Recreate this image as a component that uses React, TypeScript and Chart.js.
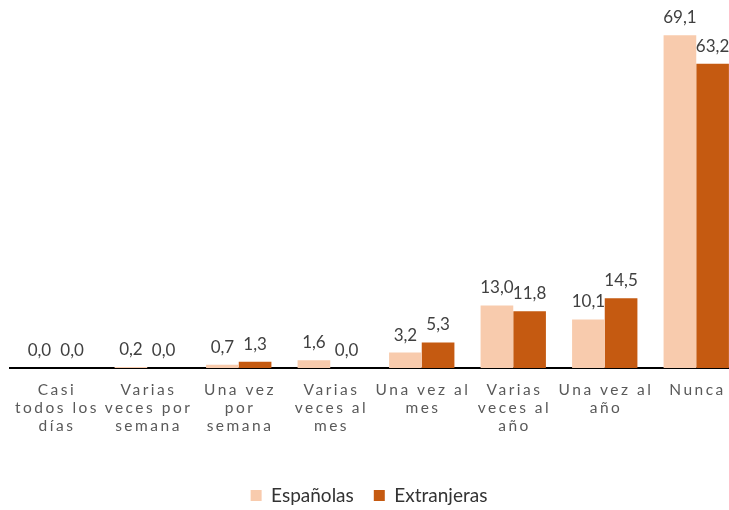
import React, { useEffect, useRef } from "react";
import { Chart, registerables } from "chart.js";

Chart.register(...registerables);

const categories: string[][] = [
  ["Casi", "todos los", "días"],
  ["Varias", "veces por", "semana"],
  ["Una vez", "por", "semana"],
  ["Varias", "veces al", "mes"],
  ["Una vez al", "mes"],
  ["Varias", "veces al", "año"],
  ["Una vez al", "año"],
  ["Nunca"],
];
const espanolas = [0.0, 0.2, 0.7, 1.6, 3.2, 13.0, 10.1, 69.1];
const extranjeras = [0.0, 0.0, 1.3, 0.0, 5.3, 11.8, 14.5, 63.2];
const seriesNames = ["Españolas", "Extranjeras"];
const colors = ["#F8CBAD", "#C55A11"];
const yMax = 70;

const FONT = "Lato, 'Open Sans', sans-serif";

const fmt = (v: number) => v.toFixed(1).replace(".", ",");

const labelsPlugin = {
  id: "customLabels",
  afterLayout(chart: any) {
    if (chart.legend) {
      chart.legend.left -= 7;
      chart.legend.right -= 7;
    }
  },
  afterDatasetsDraw(chart: any) {
    const ctx = chart.ctx;
    ctx.save();
    // value labels
    ctx.font = `17px ${FONT}`;
    ctx.fillStyle = "#404040";
    ctx.textAlign = "center";
    ctx.textBaseline = "alphabetic";
    chart.data.datasets.forEach((ds: any, di: number) => {
      const meta = chart.getDatasetMeta(di);
      meta.data.forEach((bar: any, i: number) => {
        ctx.fillText(fmt(ds.data[i]), bar.x, bar.y - 12);
      });
    });
    // category labels
    const xs = chart.scales.x;
    const bottom = chart.chartArea.bottom;
    ctx.font = `15.5px ${FONT}`;
    ctx.fillStyle = "#595959";
    (ctx as any).letterSpacing = "2.5px";
    chart.data.labels.forEach((lab: string[], i: number) => {
      const x = xs.getPixelForValue(i);
      lab.forEach((line, li) => {
        ctx.fillText(line, x + 1.25, bottom + 27 + li * 18);
      });
    });
    (ctx as any).letterSpacing = "0px";
    ctx.restore();
  },
};

export default function App() {
  const ref = useRef<HTMLCanvasElement | null>(null);
  useEffect(() => {
    if (!ref.current) return;
    const chart = new Chart(ref.current, {
      type: "bar",
      data: {
        labels: categories as any,
        datasets: [
          { label: seriesNames[0], data: espanolas, backgroundColor: colors[0] },
          { label: seriesNames[1], data: extranjeras, backgroundColor: colors[1] },
        ],
      },
      options: {
        animation: false,
        responsive: true,
        maintainAspectRatio: false,
        layout: { padding: { top: 31, left: 10, right: 3, bottom: 0 } },
        datasets: { bar: { categoryPercentage: 0.714, barPercentage: 1 } } as any,
        scales: {
          x: {
            grid: { display: false },
            ticks: { display: false },
            border: { display: true, color: "#000", width: 2 },
            afterFit: (scale: any) => {
              scale.height = 98;
            },
          },
          y: { display: false, min: 0, max: yMax },
        },
        plugins: {
          tooltip: { enabled: false },
          legend: {
            position: "bottom",
            labels: {
              boxWidth: 11,
              boxHeight: 11,
              padding: 20,
              color: "#333",
              font: { size: 19, family: FONT },
            },
          },
        },
      },
      plugins: [labelsPlugin],
    });
    return () => chart.destroy();
  }, []);
  return (
    <div
      style={{
        position: "fixed",
        left: 0,
        top: 0,
        width: 729,
        height: 510,
        overflow: "hidden",
        background: "#fff",
      }}
    >
      <div style={{ width: 745, height: 515, position: "relative" }}>
        <canvas ref={ref} />
      </div>
    </div>
  );
}
